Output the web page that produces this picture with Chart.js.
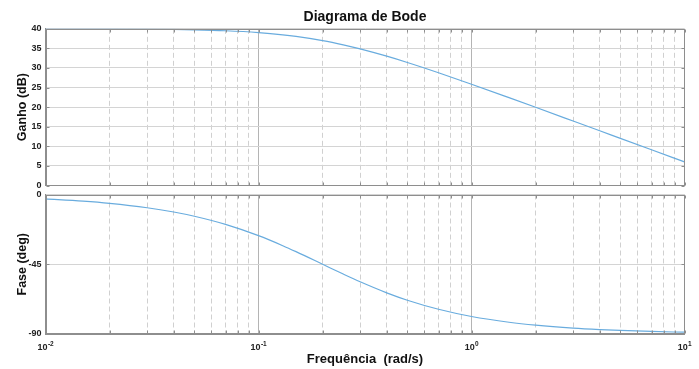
<!DOCTYPE html>
<html>
<head>
<meta charset="utf-8">
<script src="https://cdn.jsdelivr.net/npm/chart.js@4"></script>
<style>
  html, body { margin: 0; padding: 0; background: #ffffff; }
  #wrap { position: relative; width: 699px; height: 369px; background: #fff; }
  .box { position: absolute; left: 0; width: 699px; }
</style>
</head>
<body>
<div id="wrap">
  <div class="box" style="top:0;height:190px"><canvas id="gain"></canvas></div>
  <div class="box" style="top:190px;height:179px"><canvas id="phase"></canvas></div>
</div>
<script>
// ---- data ----
const freq = [0.01, 0.015, 0.02, 0.03, 0.04, 0.05, 0.07, 0.1, 0.13, 0.15, 0.2, 0.25, 0.3, 0.4, 0.5, 0.7, 1, 1.5, 2, 3, 4, 5, 7, 10];
const gainDb = [39.99, 39.98, 39.96, 39.90, 39.83, 39.74, 39.50, 39.03, 38.47, 38.06, 36.99, 35.91, 34.88, 33.01, 31.40, 28.78, 25.85, 22.42, 19.96, 16.46, 13.97, 12.03, 9.11, 6.02];
const phaseDeg = [-2.86, -4.29, -5.71, -8.53, -11.31, -14.04, -19.29, -26.57, -33.02, -36.87, -45.00, -51.34, -56.31, -63.43, -68.20, -74.05, -78.69, -82.41, -84.29, -86.19, -87.14, -87.71, -88.36, -88.85];
const freqTicks = [0.01,0.02,0.03,0.04,0.05,0.06,0.07,0.08,0.09,0.1,0.2,0.3,0.4,0.5,0.6,0.7,0.8,0.9,1,2,3,4,5,6,7,8,9,10];
const decadeTicks = [0.01, 0.1, 1, 10];
const decadeExponents = ['-2', '-1', '0', '1'];
const gainTicks = [0, 5, 10, 15, 20, 25, 30, 35, 40];
const phaseTicks = [-90, -45, 0];

const FONT = "'Liberation Sans', Arial, Helvetica, sans-serif";
const LINE = 'rgb(105,172,222)';
const isDecade = v => Math.abs(Math.log10(v) - Math.round(Math.log10(v))) < 1e-9;

// axes box with short inward tick marks, positioned by the chart's scales
const boxPlugin = {
  id: 'box',
  afterDraw(chart) {
    const a = chart.chartArea, c = chart.ctx;
    const L = Math.round(a.left) + 0.5, R = Math.round(a.right) - 0.5;
    const T = Math.round(a.top) + 0.5, B = Math.round(a.bottom) - 0.5;
    c.save();
    c.strokeStyle = '#8e8e8e';
    c.lineWidth = 1;
    c.strokeRect(L, T, R - L, B - T);
    c.beginPath();
    chart.scales.x.ticks.forEach(t => {
      const px = Math.round(chart.scales.x.getPixelForValue(t.value)) + 0.5;
      c.moveTo(px, T); c.lineTo(px, T + 3);
      c.moveTo(px, B); c.lineTo(px, B - 3);
    });
    chart.scales.y.ticks.forEach(t => {
      const py = Math.round(chart.scales.y.getPixelForValue(t.value)) + 0.5;
      c.moveTo(L, py); c.lineTo(L + 3, py);
      c.moveTo(R, py); c.lineTo(R - 3, py);
    });
    c.stroke();
    c.restore();
  }
};

// draws the decade labels "10" with a raised exponent, positioned by the x scale
const powerLabels = {
  id: 'powerLabels',
  afterDraw(chart) {
    const s = chart.scales.x, c = chart.ctx;
    const baseY = chart.chartArea.bottom + 15.7;
    c.save();
    c.fillStyle = '#222';
    c.textBaseline = 'alphabetic';
    decadeTicks.forEach((v, i) => {
      const px = s.getPixelForValue(v);
      c.font = "bold 9px " + FONT;
      const wb = c.measureText('10').width;
      c.font = "bold 6.5px " + FONT;
      const we = c.measureText(decadeExponents[i]).width;
      const x0 = px - (wb + we) / 2;
      c.font = "bold 9px " + FONT;
      c.textAlign = 'left';
      c.fillText('10', x0, baseY);
      c.font = "bold 6.5px " + FONT;
      c.fillText(decadeExponents[i], x0 + wb + 0.3, baseY - 4.2);
    });
    c.restore();
  }
};

function xScale(showTitle) {
  return {
    type: 'logarithmic',
    min: 0.01, max: 10,
    afterBuildTicks: s => { s.ticks = freqTicks.map(v => ({ value: v, major: isDecade(v) })); },
    afterFit: s => { s.height = showTitle ? 35 : 0; s.paddingLeft = 0; s.paddingRight = 0; },
    ticks: { display: false, autoSkip: false },
    grid: {
      drawTicks: false,
      color: ctx => (ctx.tick && ctx.tick.major) ? '#b4b4b4' : '#d0d0d0',
      lineWidth: 1
    },
    border: {
      display: true,
      color: '#8e8e8e',
      dash: ctx => (ctx.tick && !ctx.tick.major) ? [5, 3] : []
    },
    title: showTitle ? {
      display: true,
      text: 'Frequência  (rad/s)',
      color: '#111',
      font: { family: FONT, size: 13, weight: 'bold' },
      padding: { top: 0, bottom: 2 }
    } : { display: false }
  };
}

function yScale(ticksArr, titleText) {
  return {
    min: ticksArr[0], max: ticksArr[ticksArr.length - 1],
    afterBuildTicks: s => { s.ticks = ticksArr.map(v => ({ value: v })); },
    afterFit: s => { s.width = 45.5; s.paddingTop = 0; s.paddingBottom = 0; },
    ticks: {
      padding: 4,
      color: '#222',
      font: { family: FONT, size: 9, weight: 'bold' }
    },
    grid: { drawTicks: false, color: '#d4d4d4', lineWidth: 1 },
    border: { display: true, color: '#8e8e8e' },
    title: {
      display: true,
      text: titleText,
      color: '#111',
      font: { family: FONT, size: 12.5, weight: 'bold' },
      padding: { top: 15.5, bottom: 0 }
    }
  };
}

const common = {
  responsive: true,
  maintainAspectRatio: false,
  animation: false,
  events: [],
};

new Chart(document.getElementById('gain'), {
  type: 'line',
  data: {
    datasets: [{
      data: freq.map((f, i) => ({ x: f, y: gainDb[i] })),
      borderColor: LINE, borderWidth: 1.2, pointRadius: 0,
      cubicInterpolationMode: 'monotone', fill: false
    }]
  },
  options: Object.assign({}, common, {
    layout: { padding: { left: 0, right: 14.5, top: 0, bottom: 4.5 } },
    plugins: {
      legend: { display: false },
      tooltip: { enabled: false },
      title: {
        display: true,
        text: 'Diagrama de Bode',
        fullSize: false,
        color: '#111',
        font: { family: FONT, size: 14, weight: 'bold' },
        padding: { top: 8.5, bottom: 3.5 }
      }
    },
    scales: { x: xScale(false), y: yScale(gainTicks, 'Ganho (dB)') }
  }),
  plugins: [boxPlugin]
});

new Chart(document.getElementById('phase'), {
  type: 'line',
  data: {
    datasets: [{
      data: freq.map((f, i) => ({ x: f, y: phaseDeg[i] })),
      borderColor: LINE, borderWidth: 1.2, pointRadius: 0,
      cubicInterpolationMode: 'monotone', fill: false
    }]
  },
  options: Object.assign({}, common, {
    layout: { padding: { left: 0, right: 14.5, top: 4.5, bottom: 0 } },
    plugins: { legend: { display: false }, tooltip: { enabled: false }, title: { display: false } },
    scales: { x: xScale(true), y: yScale(phaseTicks, 'Fase (deg)') }
  }),
  plugins: [boxPlugin, powerLabels]
});
</script>
</body>
</html>
